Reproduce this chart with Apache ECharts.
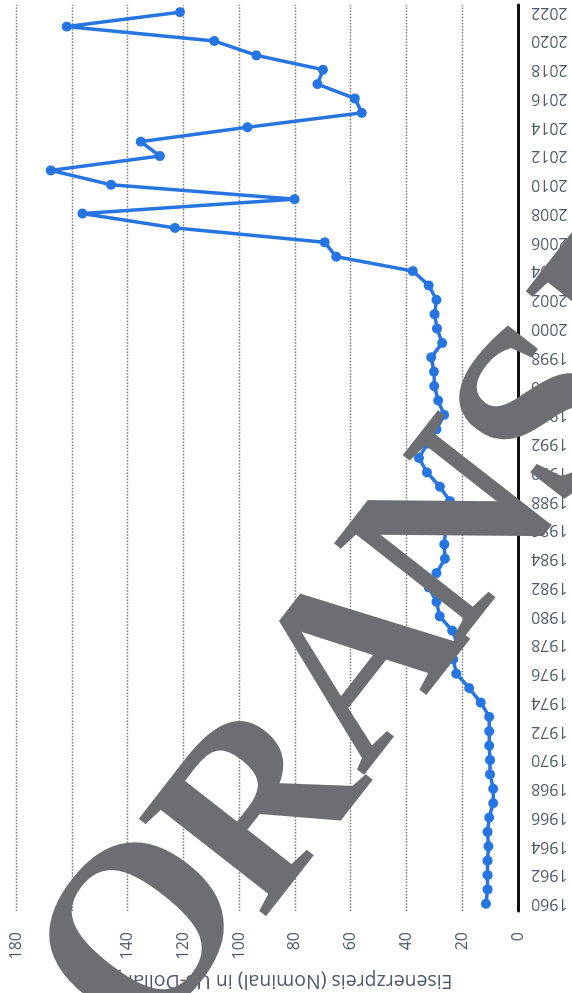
<!DOCTYPE html>
<html>
<head>
<meta charset="utf-8">
<style>
html,body{margin:0;padding:0;width:572px;height:993px;overflow:hidden;background:#ffffff;}
#chart{position:absolute;left:0;top:0;width:993px;height:572px;transform-origin:0 0;transform:translateY(993px) rotate(-90deg);}
</style>
<script src="https://cdn.jsdelivr.net/npm/echarts@6/dist/echarts.min.js"></script>
</head>
<body>
<div id="chart"></div>
<script>
var years = ['1960','1961','1962','1963','1964','1965','1966','1967','1968','1969',
'1970','1971','1972','1973','1974','1975','1976','1977','1978','1979',
'1980','1981','1982','1983','1984','1985','1986','1987','1988','1989',
'1990','1991','1992','1993','1994','1995','1996','1997','1998','1999',
'2000','2001','2002','2003','2004','2005','2006','2007','2008','2009',
'2010','2011','2012','2013','2014','2015','2016','2017','2018','2019',
'2020','2021','2022'];
var prices = [11.5,10.9,10.9,10.9,10.6,10.9,10.3,8.9,8.9,10.0,
10.0,10.3,10.3,10.3,13.4,17.5,22.1,23.2,21.5,23.6,
28.1,29.2,32.0,29.2,26.2,26.4,26.0,25.3,24.4,28.0,
32.6,35.5,32.5,29.2,26.5,28.6,30.0,30.1,31.1,27.2,
29.0,29.9,29.2,32.0,37.7,65.2,69.3,123.0,156.2,80.1,
145.9,167.5,128.4,135.3,97.0,56.0,58.5,71.9,69.9,93.8,
108.9,161.8,121.2];
var valueMin = 0, valueMax = 180, valueStep = 20;
var axisTitle = 'Eisenerzpreis (Nominal) in US-Dollar je t*';
var watermarkLetters = ['O','R','A','N','S','E'];
// watermark letter anchor points (chart coordinates before page rotation)
var watermarkX = [53,181,325,456,573,703];
var watermarkY = [150,267,367,462,553,650];

var chart = echarts.init(document.getElementById('chart'), null, {renderer:'canvas'});
var labelColor = '#4d5b6b';
var wmGraphics = watermarkLetters.map(function(ch,i){
  return {
    type:'text', z:100,
    x:watermarkX[i], y:watermarkY[i],
    rotation:-38*Math.PI/180,
    style:{text:ch,fontFamily:'Liberation Serif',fontWeight:'bold',fontSize:245,
      fill:'#6d6e71',textAlign:'center',textVerticalAlign:'middle'}
  };
});
chart.setOption({
  animation:false,
  backgroundColor:'#ffffff',
  grid:{left:82,right:5,top:16,bottom:54,containLabel:false,outerBoundsMode:'none'},
  xAxis:{
    type:'category',
    data:years,
    boundaryGap:true,
    axisLine:{show:true,lineStyle:{color:'#111111',width:3}},
    axisTick:{show:false},
    axisLabel:{interval:1,rotate:90,margin:13,fontSize:16,color:labelColor,fontFamily:'Open Sans'},
    splitLine:{show:false}
  },
  yAxis:{
    type:'value',
    min:valueMin,max:valueMax,interval:valueStep,
    name:axisTitle,
    nameLocation:'middle',
    nameGap:60,
    nameMoveOverlap:false,
    nameTextStyle:{fontSize:19.5,color:labelColor,fontFamily:'Open Sans'},
    axisLine:{show:false},
    axisTick:{show:false},
    axisLabel:{margin:21,fontSize:16,color:labelColor,fontFamily:'Open Sans'},
    splitLine:{show:true,lineStyle:{color:'#777777',width:1.3,type:[1.5,1.6]}}
  },
  series:[{
    type:'line',
    data:prices,
    symbol:'circle',
    symbolSize:10,
    showAllSymbol:true,
    lineStyle:{color:'#2775e0',width:3.5},
    itemStyle:{color:'#2775e0'},
    z:3
  }],
  graphic:wmGraphics
});
</script>
</body>
</html>
